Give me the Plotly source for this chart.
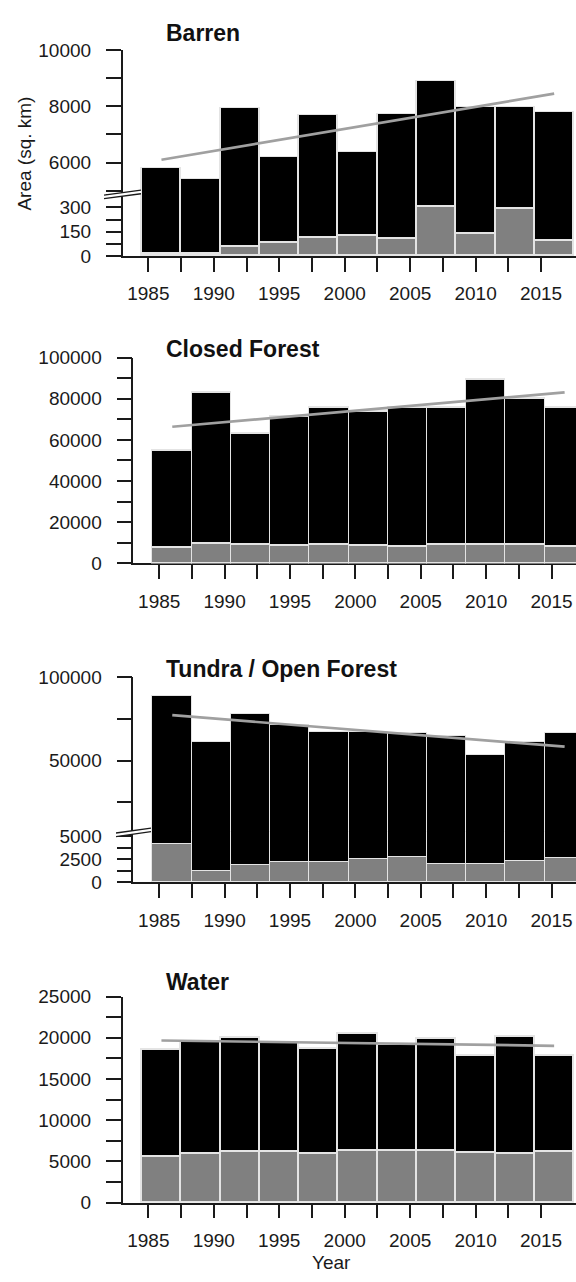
import plotly.graph_objects as go

W, H = 576, 1282

# ---------------- data ----------------
years = [1986, 1989, 1992, 1995, 1998, 2001, 2004, 2007, 2010, 2013, 2016]
trend_years = [1986, 2016]
tick_years = [1985, 1987.5, 1990, 1992.5, 1995, 1997.5, 2000, 2002.5, 2005, 2007.5, 2010, 2012.5, 2015]
tick_text = ["1985", "", "1990", "", "1995", "", "2000", "", "2005", "", "2010", "", "2015"]

barren_total = [5820, 5400, 7930, 6210, 7690, 6380, 7710, 8900, 7960, 7970, 7790]
barren_gray = [10, 10, 57, 79, 110, 124, 103, 304, 134, 290, 91]
barren_trend = [6100, 8450]

closed_total = [54800, 82800, 63200, 71600, 75900, 74000, 75700, 75500, 89200, 80100, 75900]
closed_gray = [7600, 9900, 9300, 8800, 9100, 8800, 8100, 9100, 9400, 9100, 8100]
closed_trend = [66400, 83100]

tundra_total = [88700, 61000, 77500, 71400, 67100, 67100, 66300, 64300, 53100, 60800, 66500]
tundra_gray = [4060, 1170, 1800, 2150, 2120, 2440, 2680, 1910, 1980, 2230, 2580]
tundra_trend = [77300, 58400]

water_total = [18560, 19590, 20020, 19390, 18680, 20470, 19190, 19870, 17800, 20110, 17880]
water_gray = [5550, 5990, 6180, 6180, 5910, 6300, 6270, 6270, 6030, 5910, 6150]
water_trend = [19670, 19030]

# y tick definitions
barren_up_ticks = [5000, 6000, 7000, 8000, 9000, 10000]
barren_up_text = ["", "6000", "", "8000", "", "10000"]
barren_lo_ticks = [0, 75, 150, 225, 300, 375]
barren_lo_text = ["0", "", "150", "", "300", ""]
closed_ticks = [0, 10000, 20000, 30000, 40000, 50000, 60000, 70000, 80000, 90000, 100000]
closed_text = ["0", "", "20000", "", "40000", "", "60000", "", "80000", "", "100000"]
tundra_up_ticks = [25000, 50000, 75000, 100000]
tundra_up_text = ["", "50000", "", "100000"]
tundra_lo_ticks = [0, 1250, 2500, 3750, 5000]
tundra_lo_text = ["0", "", "2500", "", "5000"]
water_ticks = [0, 2500, 5000, 7500, 10000, 12500, 15000, 17500, 20000, 22500, 25000]
water_text = ["0", "", "5000", "", "10000", "", "15000", "", "20000", "", "25000"]

# ---------------- style ----------------
FONT = "Liberation Sans, Arial, sans-serif"
AX = "#1a1a1a"
GRAY = "#808080"
EDGE = "#e4e4e4"
TREND = "#a0a0a0"
BW = 3


def fx(px):
    return px / W


def fy(py):
    return 1 - py / H


fig = go.Figure()


def bar(x, y, color, xa, ya, base=None):
    fig.add_trace(go.Bar(
        x=x, y=y, base=base, width=BW, xaxis=xa, yaxis=ya,
        marker=dict(color=color, line=dict(color=EDGE, width=1.5)),
        showlegend=False, hoverinfo="skip"))


def trend(vals, xa, ya):
    fig.add_trace(go.Scatter(
        x=trend_years, y=vals, mode="lines", xaxis=xa, yaxis=ya,
        line=dict(color=TREND, width=2.7), showlegend=False, hoverinfo="skip"))


# Barren (broken axis): lower y2, upper y
bar(years, barren_gray, GRAY, "x", "y2")
bar(years, [t - g for t, g in zip(barren_total, barren_gray)], "#000000", "x", "y2", base=barren_gray)
bar(years, barren_total, "#000000", "x", "y")
trend(barren_trend, "x", "y")

# Closed forest
bar(years, closed_gray, GRAY, "x2", "y3")
bar(years, [t - g for t, g in zip(closed_total, closed_gray)], "#000000", "x2", "y3", base=closed_gray)
trend(closed_trend, "x2", "y3")

# Tundra (broken axis): lower y5, upper y4
bar(years, tundra_gray, GRAY, "x3", "y5")
bar(years, [t - g for t, g in zip(tundra_total, tundra_gray)], "#000000", "x3", "y5", base=tundra_gray)
bar(years, tundra_total, "#000000", "x3", "y4")
trend(tundra_trend, "x3", "y4")

# Water
bar(years, water_gray, GRAY, "x4", "y6")
bar(years, [t - g for t, g in zip(water_total, water_gray)], "#000000", "x4", "y6", base=water_gray)
trend(water_trend, "x4", "y6")


def xax(left_px, rng, anchor):
    return dict(domain=[fx(left_px), 1], range=rng, anchor=anchor,
                showline=True, linecolor=AX, linewidth=1.5, layer="below traces",
                ticks="outside", ticklen=14, tickwidth=1.5, tickcolor=AX,
                tickvals=tick_years, ticktext=tick_text,
                tickfont=dict(family=FONT, size=19, color=AX),
                ticklabelstandoff=6,
                showgrid=False, zeroline=False, fixedrange=True)


def yax(top_px, bot_px, rng, anchor, tv, tt):
    return dict(domain=[fy(bot_px), fy(top_px)], range=rng, anchor=anchor,
                showline=True, linecolor=AX, linewidth=1.5,
                ticks="outside", ticklen=15, tickwidth=1.5, tickcolor=AX,
                tickvals=tv, ticktext=tt,
                tickfont=dict(family=FONT, size=19, color=AX),
                ticklabelstandoff=11,
                showgrid=False, zeroline=False, fixedrange=True)


# broken-axis segment boundaries overlap by 2 px so no seam shows
def up_range(top_val, top_px, px_per_unit, bot_px):
    return [top_val - (bot_px - top_px) / px_per_unit, top_val]


BAR_L = 122.7
CF_L = 133.3
b_up_bot = 188.0
b_lo_top = 186.0
t_up_bot = 837.0
t_lo_top = 835.0
fig.update_layout(
    width=W, height=H, margin=dict(l=0, r=0, t=0, b=0),
    paper_bgcolor="white", plot_bgcolor="rgba(0,0,0,0)",
    barmode="stack", bargap=0,
    xaxis=xax(BAR_L, [1983.04, 2017.67], "y2"),
    yaxis=yax(40.7, b_up_bot, up_range(10000, 40.7, 0.0286, b_up_bot), "x", barren_up_ticks, barren_up_text),
    yaxis2=yax(b_lo_top, 250, [0, (250 - b_lo_top) / 0.1643], "x", barren_lo_ticks, barren_lo_text),
    xaxis2=xax(CF_L, [1983.02, 2016.87], "y3"),
    yaxis3=yax(353.3, 562.7, [0, 100000], "x2", closed_ticks, closed_text),
    xaxis3=xax(CF_L, [1983.02, 2016.87], "y5"),
    yaxis4=yax(678.5, t_up_bot, up_range(100000, 678.5, 0.001694, t_up_bot), "x3", tundra_up_ticks, tundra_up_text),
    yaxis5=yax(t_lo_top, 887, [0, (887 - t_lo_top) / 0.00944], "x3", tundra_lo_ticks, tundra_lo_text),
    xaxis4=xax(BAR_L, [1983.04, 2017.67], "y6"),
    yaxis6=yax(1003, 1212.5, [0, 25000], "x4", water_ticks, water_text),
)

# Panel titles
titles = [("Barren", 23), ("Closed Forest", 345), ("Tundra / Open Forest", 670), ("Water", 988)]
for txt, ypx in titles:
    fig.add_annotation(text="<b>%s</b>" % txt, xref="paper", yref="paper",
                       x=fx(164), y=fy(ypx), xanchor="left", yanchor="middle",
                       showarrow=False, font=dict(family=FONT, size=23, color="#111"))

fig.add_annotation(text="Area (sq. km)", xref="paper", yref="paper",
                   x=fx(25), y=fy(146), xanchor="center", yanchor="middle",
                   textangle=-90, showarrow=False,
                   font=dict(family=FONT, size=19, color=AX))
fig.add_annotation(text="Year", xref="paper", yref="paper",
                   x=fx(331), y=fy(1273), xanchor="center", yanchor="middle",
                   showarrow=False, font=dict(family=FONT, size=19, color=AX))


# Axis break marks
def brk(x0, y0, x1, y1, gap=1.8):
    p = lambda a, b: "%f,%f" % (fx(a), fy(b))
    path = "M %s L %s L %s L %s Z" % (p(x0, y0 - gap), p(x1, y1 - gap), p(x1, y1 + gap), p(x0, y0 + gap))
    fig.add_shape(type="path", path=path, xref="paper", yref="paper",
                  fillcolor="white", line=dict(width=0), layer="above")
    for s in (-gap, gap):
        fig.add_shape(type="line", xref="paper", yref="paper",
                      x0=fx(x0), y0=fy(y0 + s), x1=fx(x1), y1=fy(y1 + s),
                      line=dict(color=AX, width=1.3), layer="above")


brk(104, 190, 141, 185)
brk(116, 838.5, 151, 833.5)

fig.write_html("out.html")
